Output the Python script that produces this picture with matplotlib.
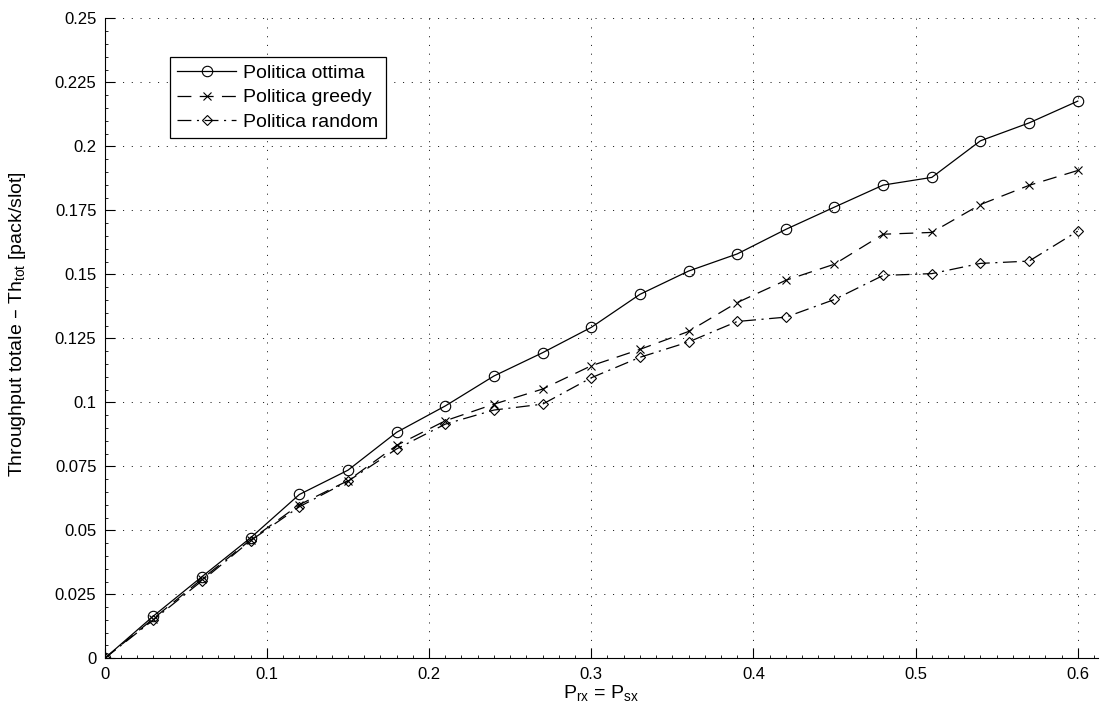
import numpy as np
import matplotlib
matplotlib.use("Agg")
import matplotlib.pyplot as plt
from matplotlib.ticker import MultipleLocator

plt.rcParams['font.family'] = ['Liberation Sans', 'DejaVu Sans']
plt.rcParams['mathtext.default'] = 'regular'
plt.rcParams['lines.scale_dashes'] = False

# valori
p = [0, 0.03, 0.06, 0.09, 0.12, 0.15, 0.18, 0.21, 0.24, 0.27, 0.30,
     0.33, 0.36, 0.39, 0.42, 0.45, 0.48, 0.51, 0.54, 0.57, 0.60]
th_ottima = [0, 0.0165, 0.0319, 0.0471, 0.0640, 0.0735, 0.0883, 0.0986, 0.1103, 0.1194, 0.1293,
             0.1422, 0.1513, 0.1580, 0.1676, 0.1763, 0.1849, 0.1879, 0.2022, 0.2092, 0.2177]
th_greedy = [0, 0.0155, 0.0310, 0.0463, 0.0600, 0.0694, 0.0832, 0.0928, 0.0993, 0.1052, 0.1143,
             0.1207, 0.1277, 0.1390, 0.1477, 0.1540, 0.1657, 0.1664, 0.1773, 0.1848, 0.1906]
th_random = [0, 0.0150, 0.0303, 0.0460, 0.0592, 0.0692, 0.0818, 0.0915, 0.0970, 0.0993, 0.1096,
             0.1176, 0.1236, 0.1316, 0.1333, 0.1402, 0.1496, 0.1503, 0.1543, 0.1552, 0.1669]

yticks = [0, 0.025, 0.05, 0.075, 0.1, 0.125, 0.15, 0.175, 0.2, 0.225, 0.25]
ylabels = ["0", "0.025", "0.05", "0.075", "0.1", "0.125", "0.15", "0.175", "0.2", "0.225", "0.25"]
xticks = [0, 0.1, 0.2, 0.3, 0.4, 0.5, 0.6]
xlabels = ["0", "0.1", "0.2", "0.3", "0.4", "0.5", "0.6"]

fig = plt.figure(figsize=(11, 7.16), dpi=100)
ax = fig.add_axes([0.0952, 0.0806, 0.903, 0.8936])

ax.plot(p, th_ottima, color='k', lw=0.9, linestyle='-', marker='o', ms=7.5,
        mfc='none', mec='k', mew=0.8, label='Politica ottima')
ax.plot(p, th_greedy, color='k', lw=0.9, dashes=(10, 6), marker='x', ms=6,
        mec='k', mew=0.8, label='Politica greedy')
ax.plot(p, th_random, color='k', lw=0.9, dashes=(10, 4, 1.5, 4), marker='D', ms=5.5,
        mfc='none', mec='k', mew=0.8, label='Politica random')

ax.set_xlim(0, 0.6125)
ax.set_ylim(0, 0.25)
ax.set_xticks(xticks)
ax.set_xticklabels(xlabels)
ax.set_yticks(yticks)
ax.set_yticklabels(ylabels)
ax.xaxis.set_minor_locator(MultipleLocator(0.01))
ax.yaxis.set_minor_locator(MultipleLocator(0.005))
ax.tick_params(which='major', direction='in', length=7, width=0.8, labelsize=12, pad=6)
ax.tick_params(which='minor', direction='in', length=2.5, width=0.6)

ax.grid(True, which='major', color='k', linestyle=(0, (0.8, 5.5)), linewidth=0.6)
ax.spines['top'].set_visible(False)
ax.spines['right'].set_visible(False)
ax.spines['left'].set_linewidth(0.8)
ax.spines['bottom'].set_linewidth(0.8)

ax.set_xlabel('P$_{rx}$ = P$_{sx}$', fontsize=14, labelpad=1)
ax.set_ylabel('Throughput totale – Th$_{tot}$ [pack/slot]', fontsize=14)
ax.yaxis.set_label_coords(-0.077, 0.522)

leg = ax.legend(loc='upper left', bbox_to_anchor=(0.0657, 0.94), borderaxespad=0,
                fontsize=14, fancybox=False, framealpha=1, edgecolor='k',
                handlelength=3.0, borderpad=0.38, labelspacing=0.36, handletextpad=0.4)
leg.get_frame().set_linewidth(0.9)

fig.savefig('out.png', dpi=100)
